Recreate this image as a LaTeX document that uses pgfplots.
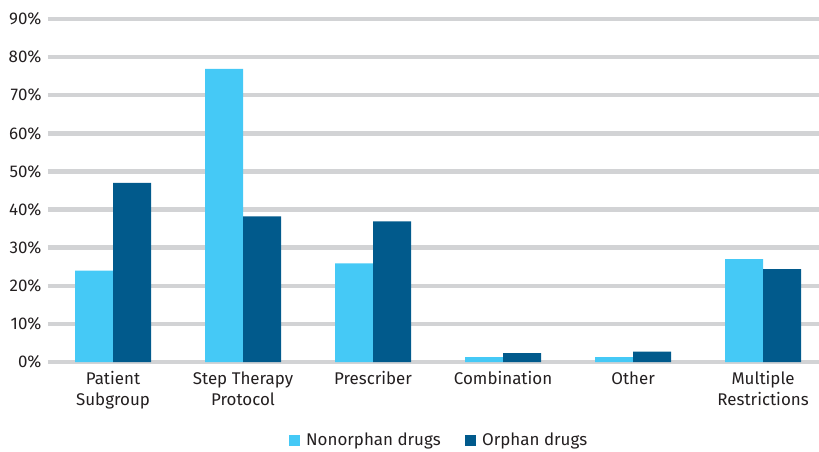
\documentclass[border=0pt]{standalone}
\usepackage{pgfplots}
\pgfplotsset{compat=1.18}
\usetikzlibrary{calc}
\usepackage{fontspec}
\setmainfont{Fira Sans}
\definecolor{nonorphan}{HTML}{45C9F6}
\definecolor{orphan}{HTML}{015A8C}
\definecolor{gridgray}{HTML}{D2D3D5}
\definecolor{txt}{HTML}{231F20}
\begin{document}
\begin{tikzpicture}
\begin{axis}[
  scale only axis,
  width=771bp, height=343bp,
  ymin=0, ymax=90,
  ytick={0,10,...,90},
  yticklabel={\pgfmathprintnumber{\tick}\%},
  xmin=-0.5, xmax=5.43,
  xtick={0,...,5},
  xticklabels={{Patient\\Subgroup},{Step Therapy\\Protocol},Prescriber,Combination,Other,{Multiple\\Restrictions}},
  xticklabel style={align=center, text=txt, font=\fontsize{17}{21}\selectfont, yshift=-6bp},
  yticklabel style={text=txt, font=\fontsize{17}{20}\selectfont, xshift=-3bp},
  /pgf/number format/assume math mode=true,
  axis line style={draw=none},
  major tick length=0pt,
  ymajorgrids,
  grid style={line width=4.5bp, gridgray},
  ybar=0pt,
  bar width=38bp,
  legend style={at={(0.507,-0.228)}, anchor=center, draw=none, legend columns=2,
    font=\fontsize{17}{20}\selectfont, text=txt,
    /tikz/every odd column/.append style={column sep=4bp},
    /tikz/every even column/.append style={column sep=22bp}},
  legend image code/.code={\fill[#1] (0bp,-6bp) rectangle (11.5bp,5.5bp);},
  name=ax,
]
\addplot[fill=nonorphan, draw=none] coordinates {(0,24.0) (1,76.9) (2,25.9) (3,1.3) (4,1.3) (5,27.0)};
\addplot[fill=orphan, draw=none] coordinates {(0,47.0) (1,38.2) (2,36.9) (3,2.3) (4,2.7) (5,24.4)};
\legend{Nonorphan drugs, Orphan drugs}
\coordinate (bl) at (rel axis cs:0,0);
\coordinate (tr) at (rel axis cs:1,1);
\end{axis}
\pgfresetboundingbox
\path ($(bl)+(-48bp,-90bp)$) rectangle ($(tr)+(0bp,19bp)$);
\end{tikzpicture}
\end{document}
